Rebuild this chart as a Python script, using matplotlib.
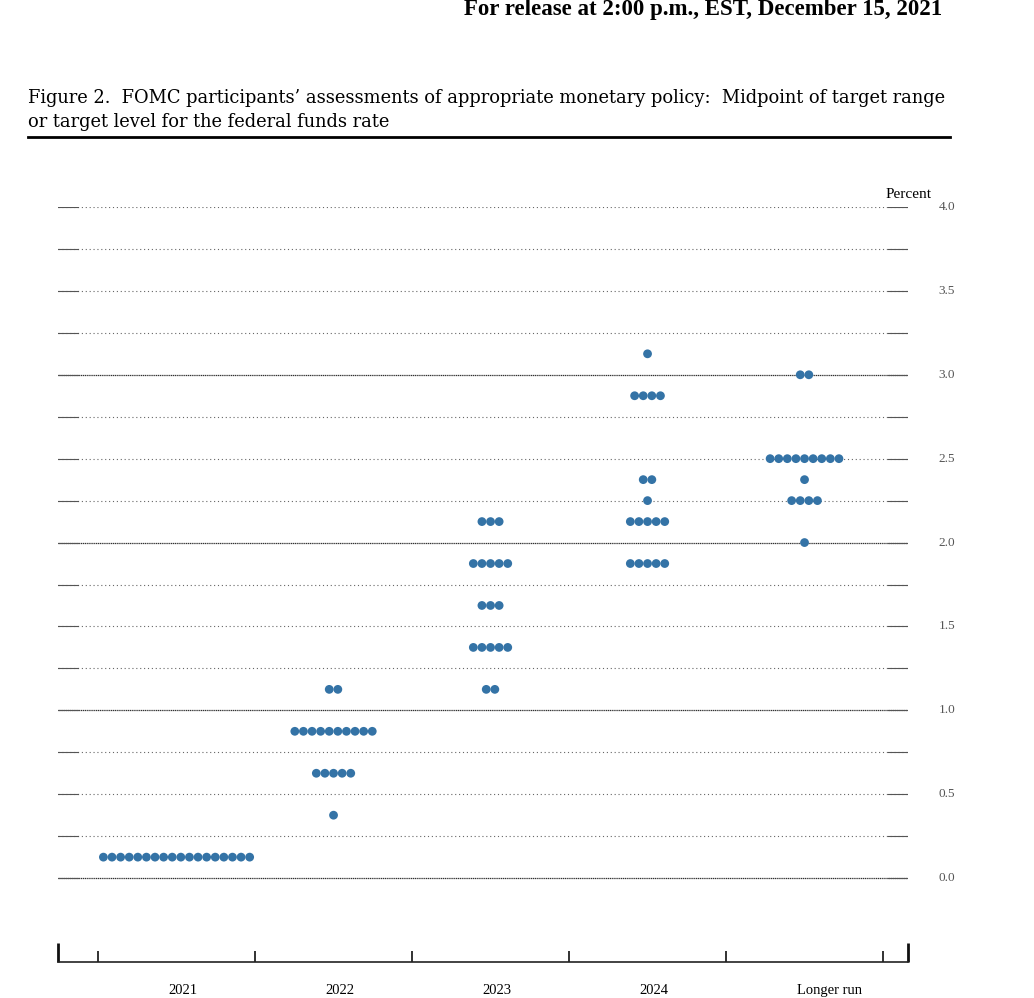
import numpy as np
import matplotlib.pyplot as plt
from matplotlib.lines import Line2D

# -----------------------------
# Data
# -----------------------------
columns = ["2021", "2022", "2023", "2024", "Longer run"]

rates_2021 = [0.125]
counts_2021 = [18]

rates_2022 = [1.125, 0.875, 0.625, 0.375]
counts_2022 = [2, 10, 5, 1]

rates_2023 = [2.125, 1.875, 1.625, 1.375, 1.125]
counts_2023 = [3, 5, 3, 5, 2]

rates_2024 = [3.125, 2.875, 2.375, 2.25, 2.125, 1.875]
counts_2024 = [1, 4, 2, 1, 5, 5]

rates_lr = [3.0, 2.5, 2.375, 2.25, 2.0]
counts_lr = [2, 9, 1, 4, 1]

all_rates = [rates_2021, rates_2022, rates_2023, rates_2024, rates_lr]
all_counts = [counts_2021, counts_2022, counts_2023, counts_2024, counts_lr]

grid_levels = np.arange(0, 4.01, 0.25)
ytick_labels = ["0.0", "0.5", "1.0", "1.5", "2.0", "2.5", "3.0", "3.5", "4.0"]

dot_color = "#3473a6"
serif = ["Liberation Serif", "DejaVu Serif"]

# -----------------------------
# Figure
# -----------------------------
W, H = 1034, 998
fig = plt.figure(figsize=(W / 100, H / 100), dpi=100)

# axes spans pixel x 58..908, y 207 (4.0) .. 962 (baseline, -0.5)
ax = fig.add_axes([58 / W, (H - 962) / H, 850 / W, 755 / H])
x_lo, x_hi = -0.755, 4.659
ax.set_xlim(x_lo, x_hi)
ax.set_ylim(-0.5, 4.0)

for s in ["left", "right", "top"]:
    ax.spines[s].set_visible(False)
ax.spines["bottom"].set_linewidth(1.2)
ax.spines["bottom"].set_color("#222222")
ax.set_yticks([])

# ticks on the bottom axis
ax.set_xticks([x_lo, x_hi])
ax.set_xticklabels([])
ax.tick_params(axis="x", which="major", direction="in", length=13.5, width=2, color="#111111")
ax.set_xticks(np.arange(-0.5, 5.0, 1.0), minor=True)
ax.tick_params(axis="x", which="minor", direction="in", length=8, width=1.3, color="#222222")

# grid lines
seg = 0.127
for lv in grid_levels:
    major = abs(lv - round(lv)) < 1e-9 and lv < 3.9
    if major:
        ax.plot([x_lo, x_hi], [lv, lv], color="#333333", lw=0.9, ls=(0, (1, 0.5)), zorder=1)
    else:
        ax.plot([x_lo, x_hi], [lv, lv], color="#666666", lw=0.8, ls=(0, (1, 2.5)), zorder=1)
    ax.plot([x_lo, x_lo + seg], [lv, lv], color="#555555", lw=0.8, zorder=1)
    ax.plot([x_hi - seg, x_hi], [lv, lv], color="#555555", lw=0.8, zorder=1)

# y labels on the right
for i, lab in enumerate(ytick_labels):
    ax.text(1.0459, i * 0.5, lab, transform=ax.get_yaxis_transform(),
            ha="center", va="center", fontsize=9.5, color="#555555", family=serif)
ax.text(1.028, 4.075, "Percent", transform=ax.get_yaxis_transform(),
        ha="right", va="center", fontsize=11, color="black", family=serif)

# dots
spacing = 0.0548
for col, (rates, counts) in enumerate(zip(all_rates, all_counts)):
    for r, n in zip(rates, counts):
        xs = col + (np.arange(n) - (n - 1) / 2) * spacing
        ax.scatter(xs, [r] * n, s=40, color=dot_color, edgecolors="none", zorder=3)

# column labels
label_x = [0.04, 1.04, 2.04, 3.04, 4.16]
for x, lab in zip(label_x, columns):
    ax.text(x, -0.63, lab, ha="center", va="top", fontsize=10.5,
            family=serif, clip_on=False)

# header and title
fig.text(942 / W, 1 - 15 / H, "For release at 2:00 p.m., EST, December 15, 2021",
         ha="right", va="baseline", fontsize=16.5, fontweight="bold", family=serif)
title_font = ["DejaVu Serif"]
fig.text(28 / W, 1 - 103 / H,
         "Figure 2.  FOMC participants\u2019 assessments of appropriate monetary policy:  Midpoint of target range",
         ha="left", va="baseline", fontsize=12.85, family=title_font)
fig.text(28 / W, 1 - 127 / H, "or target level for the federal funds rate",
         ha="left", va="baseline", fontsize=12.85, family=title_font)
fig.add_artist(Line2D([28 / W, 950 / W], [1 - 137 / H, 1 - 137 / H],
                      transform=fig.transFigure, color="black", lw=2))

plt.savefig("out.png", dpi=100)
